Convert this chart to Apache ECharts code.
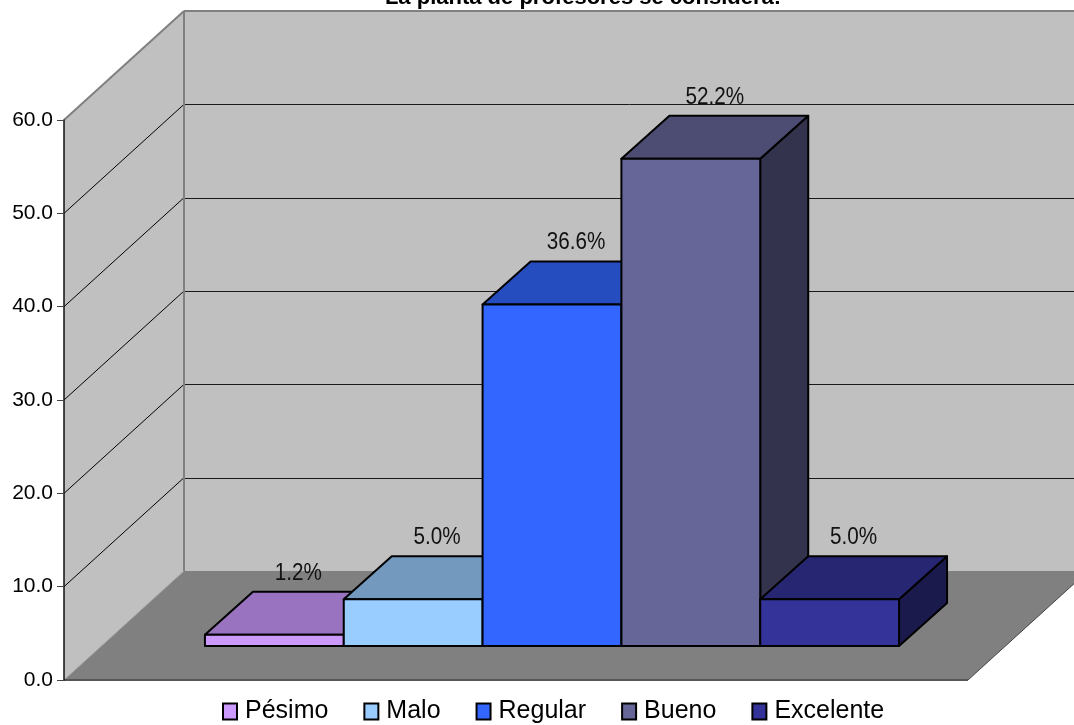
<!DOCTYPE html>
<html>
<head>
<meta charset="utf-8">
<style>html,body{margin:0;padding:0;background:#fff}#c{width:1074px;height:725px}</style>
<script src="https://cdn.jsdelivr.net/npm/echarts@6/dist/echarts.min.js"></script>
</head>
<body>
<div id="c"></div>
<script>
const titleText = 'La planta de profesores se considera:';
const categories = ['Pésimo', 'Malo', 'Regular', 'Bueno', 'Excelente'];
const values = [1.2, 5.0, 36.6, 52.2, 5.0];
const frontColors = ['#CC99FF', '#99CCFF', '#3366FF', '#666699', '#333399'];
const topColors = ['#9973BF', '#7399BF', '#264DBF', '#4D4D73', '#262673'];
const sideColors = ['#664D80', '#4D6680', '#1A3380', '#33334D', '#1A1A4D'];
const yTicks = [0, 10, 20, 30, 40, 50, 60];

const FONT = '"Liberation Sans", Arial, sans-serif';
const WALL = [120, -109];      // full depth of the 3D box
const BAR_FROM = [36, -34];    // depth of the front of the bars
const BAR_DEPTH = [48, -43];   // depth of a bar
const GAP = 0.756;             // empty band on each side, in bar widths

const shift = (p, d) => [p[0] + d[0], p[1] + d[1]];

function renderWalls(params, api) {
  const ch = [];
  const a = api.coord([-GAP, 0]);
  const b = api.coord([5 + GAP, 0]);
  const t = api.coord([-GAP, 60]);
  const a2 = shift(a, WALL), b2 = shift(b, WALL), t2 = shift(t, WALL);
  const tr = [b2[0], t2[1]];
  const poly = (points, fill) => ({type: 'polygon', shape: {points}, style: {fill, stroke: null}, silent: true});
  const line = (p, q, stroke, lineWidth) => ({type: 'line', shape: {x1: p[0], y1: p[1], x2: q[0], y2: q[1]}, style: {stroke, lineWidth}, silent: true});
  ch.push(poly([t2, tr, b2, a2], '#C0C0C0'));
  ch.push(poly([t, t2, a2, a], '#C0C0C0'));
  ch.push(poly([a, b, b2, a2], '#808080'));
  yTicks.forEach(v => {
    if (v === 0 || v === 60) return;
    const p = api.coord([-GAP, v]);
    const q = shift(p, WALL);
    ch.push(line(p, q, '#000', 1));
    const y = Math.round(q[1]) + 0.5;
    ch.push(line([q[0], y], [b2[0], y], '#1a1a1a', 1));
  });
  ch.push(line(t, t2, '#808080', 2));
  ch.push(line(t2, tr, '#808080', 2));
  ch.push(line(t2, a2, '#808080', 2));
  ch.push(line(a, a2, '#A0A0A0', 1));
  ch.push(line(a, b, '#555', 2));
  ch.push(line(b, b2, '#444', 1));
  return {type: 'group', children: ch};
}

function renderBar(i) {
  return function (params, api) {
    const x = api.value(0), v = api.value(1);
    const bl0 = shift(api.coord([x, 0]), BAR_FROM);
    const br0 = shift(api.coord([x + 1, 0]), BAR_FROM);
    const tl0 = shift(api.coord([x, v]), BAR_FROM);
    const tr0 = shift(api.coord([x + 1, v]), BAR_FROM);
    const br1 = shift(br0, BAR_DEPTH), tl1 = shift(tl0, BAR_DEPTH), tr1 = shift(tr0, BAR_DEPTH);
    const s = (fill) => ({fill, stroke: '#000', lineWidth: 2, lineJoin: 'round'});
    return {type: 'group', children: [
      {type: 'polygon', shape: {points: [tr0, tr1, br1, br0]}, style: s(sideColors[i])},
      {type: 'polygon', shape: {points: [tl0, tl1, tr1, tr0]}, style: s(topColors[i])},
      {type: 'polygon', shape: {points: [tl0, tr0, br0, bl0]}, style: s(frontColors[i])},
      {type: 'text', x: (tl0[0] + tr1[0]) / 2, y: tl1[1] - 18.5, scaleX: 0.88, z2: 50, style: {
        text: v.toFixed(1) + '%', fill: '#111', font: '23.5px ' + FONT, align: 'center', verticalAlign: 'middle'
      }}
    ]};
  };
}

const chart = echarts.init(document.getElementById('c'));
chart.setOption({
  animation: false,
  backgroundColor: '#fff',
  title: {
    text: titleText, left: 578, top: -18, textAlign: 'center',
    textStyle: {fontFamily: FONT, fontSize: 22, fontWeight: 'bold', color: '#000'}
  },
  legend: {
    left: 222, top: 699, padding: 0, orient: 'horizontal', icon: 'rect',
    itemWidth: 14, itemHeight: 16, itemGap: 35,
    data: categories,
    itemStyle: {borderColor: '#000', borderWidth: 2},
    textStyle: {fontFamily: FONT, fontSize: 25, color: '#000', padding: [0, 0, 9, 3]}
  },
  grid: {left: 64, top: 120, width: 904, height: 560, containLabel: false},
  xAxis: {type: 'value', min: -GAP, max: 5 + GAP, show: false, splitLine: {show: false}},
  yAxis: {
    type: 'value', min: 0, max: 60, interval: 10, z: 10,
    axisLine: {show: true, onZero: false, lineStyle: {color: '#111', width: 1.5}},
    axisTick: {show: true, length: 7, lineStyle: {color: '#444', width: 1}},
    axisLabel: {margin: 11, fontFamily: FONT, fontSize: 21, color: '#000', formatter: v => v.toFixed(1)},
    splitLine: {show: false}
  },
  series: [
    {type: 'custom', name: 'walls', renderItem: renderWalls, data: [[0, 0]], silent: true, clip: false, z: 1}
  ].concat(categories.map((name, i) => ({
    type: 'custom', name, renderItem: renderBar(i), data: [[i, values[i]]], clip: false, z: 2,
    itemStyle: {color: frontColors[i]}, encode: {x: 0, y: 1}
  })))
});
</script>
</body>
</html>
